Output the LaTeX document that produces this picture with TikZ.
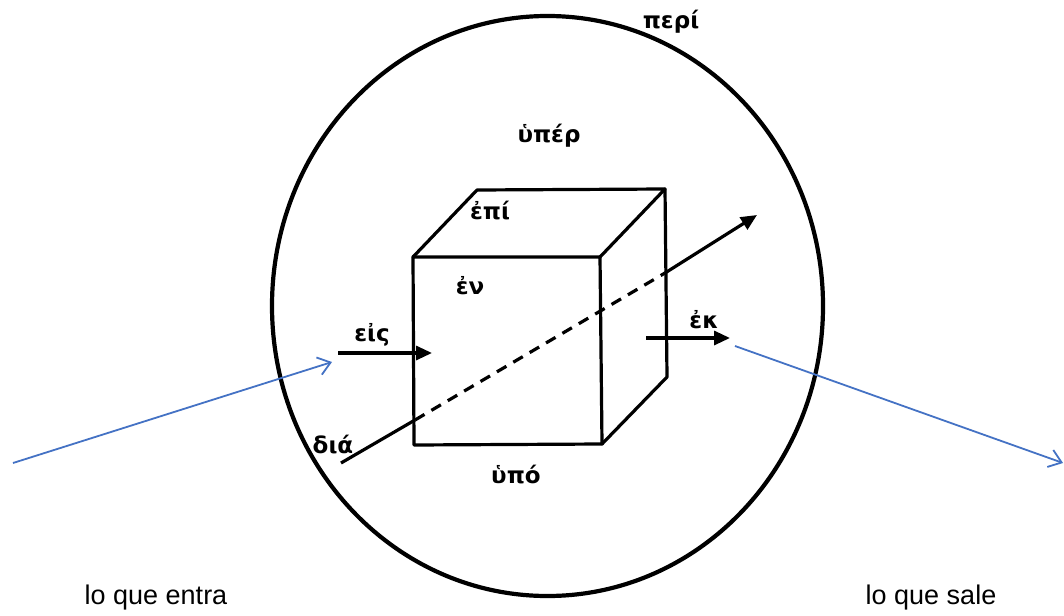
\documentclass[tikz,border=0pt]{standalone}
\usepackage{fontspec}
\setmainfont{Liberation Sans}
\newfontfamily\grk{DejaVu Sans}
\usetikzlibrary{arrows.meta}
\begin{document}
\begin{tikzpicture}[x=1pt,y=-1pt,
  gr/.style={font=\grk\bfseries\fontsize{23}{25}\selectfont, inner sep=0pt},
  caption/.style={font=\fontsize{27}{30}\selectfont, inner sep=0pt},
  edge/.style={line width=3.2pt, line cap=round, line join=round},
  blk/.style={line width=3.2pt, -{Triangle[length=16pt,width=14pt]}},
  blu/.style={line width=1.8pt, draw={rgb,255:red,68;green,114;blue,196}, -{Straight Barb[length=12pt,width=18pt,line width=1.8pt]}}]
\useasboundingbox (0,0) rectangle (1064,615);
% enclosing ellipse
\draw[line width=4.2pt] (547.5,306) ellipse [x radius=275.5, y radius=290];
% cube corners
\coordinate (F1) at (413,257);
\coordinate (F2) at (600,257);
\coordinate (F3) at (602,444);
\coordinate (F4) at (414,445);
\coordinate (B1) at (477,190);
\coordinate (B2) at (665,189);
\coordinate (B3) at (667,377);
\draw[edge] (F1) -- (F2) -- (F3) -- (F4) -- cycle;
\draw[edge] (F1) -- (B1) -- (B2) -- (F2);
\draw[edge] (B2) -- (B3) -- (F3);
% dia line
\coordinate (D0) at (341,463);
\coordinate (Din) at (415,420);
\coordinate (Dout) at (665,273);
\coordinate (Dtip) at (757,215);
\draw[line width=3.2pt] (D0) -- (Din);
\draw[line width=3.2pt, dash pattern=on 11pt off 8pt] (Din) -- (Dout);
\draw[blk] (Dout) -- (Dtip);
% eis / ek arrows
\coordinate (Es) at (338,353);
\coordinate (Ee) at (432,353);
\coordinate (Ks) at (646,338);
\coordinate (Ke) at (730,338);
\draw[blk] (Es) -- (Ee);
\draw[blk] (Ks) -- (Ke);
% labels
\node[gr] (peri) at (671,22) {περί};
\node[gr] (hyper) at (549,136) {ὑπέρ};
\node[gr] (epi) at (490,211) {ἐπί};
\node[gr] (en) at (470,286) {ἐν};
\node[gr] (eis) at (372,335) {εἰς};
\node[gr] (ek) at (704,320) {ἐκ};
\node[gr] (dia) at (333,445) {διά};
\node[gr] (hypo) at (516,475) {ὑπό};
% blue connectors
\coordinate (L0) at (13,463);
\coordinate (L1) at (332,362);
\coordinate (R0) at (735,346);
\coordinate (R1) at (1063,463);
\draw[blu] (L0) -- (L1);
\draw[blu] (R0) -- (R1);
% captions
\node[caption] (in) at (156,598) {lo que entra};
\node[caption] (out) at (931,598) {lo que sale};
\end{tikzpicture}
\end{document}
